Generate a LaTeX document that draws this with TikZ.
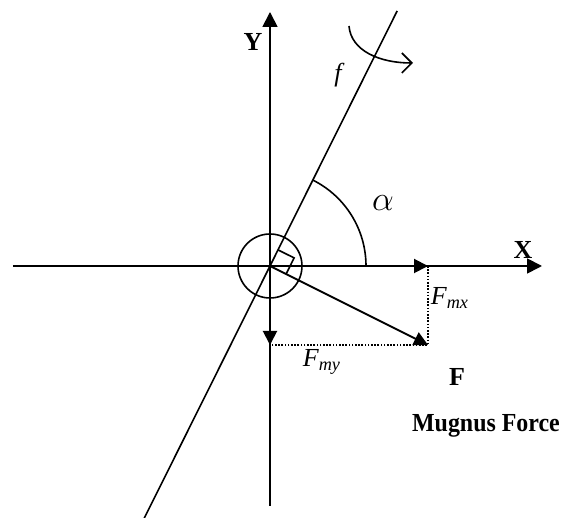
\documentclass[tikz,border=0pt,12pt]{standalone}
\usepackage{fontspec}
\setmainfont{Liberation Serif}
\usepackage{graphicx}
\usetikzlibrary{arrows.meta}

\begin{document}
\begin{tikzpicture}[
    x=0.5pt, y=0.5pt,
    axis/.style={line width=0.9pt, -{Triangle[length=7.5pt,width=7.5pt]}},
    vec/.style={line width=1pt, -{Triangle[length=7pt,width=7pt]}},
    comp/.style={line width=0.8pt, dash pattern=on 0.8pt off 0.8pt},
    thinline/.style={line width=0.8pt},
    lbl/.style={font=\bfseries\fontsize{13}{15}\selectfont, inner sep=0pt},
    ilbl/.style={font=\itshape\fontsize{13}{15}\selectfont, inner sep=0pt}
]
\useasboundingbox (-270,-252) rectangle (293,266);

% Axes
\coordinate (O) at (0,0);
\coordinate (xl) at (-257,0);
\coordinate (xr) at (272,0);
\coordinate (yb) at (0,-240);
\coordinate (yt) at (0,254);
\draw[axis] (xl) -- (xr);
\draw[axis] (yb) -- (yt);

% Force and its components
\coordinate (Fx) at (158,0);
\coordinate (Fy) at (0,-79);
\coordinate (Ft) at (158,-79);
\draw[comp] (Fx) -- (Ft) -- (Fy);
\draw[vec] (O) -- (Fx);
\draw[vec] (O) -- (Fy);
\draw[vec] (O) -- (Ft);

% Spin axis f
\coordinate (fb) at (243.5:282);
\coordinate (ft) at (63.5:285);
\draw[thinline] (fb) -- (ft);
\draw[thinline] (O) circle[radius=32];
\draw[thinline] (63.5:18) -- ++(-26.5:18) -- (-26.5:18);
\draw[thinline] (96,0) arc[start angle=0, end angle=63.5, radius=96];

% Rotation
\coordinate (rs) at (79,240);
\coordinate (re) at (143,203);
\draw[thinline, -{Straight Barb[length=5pt,width=10pt]}] (rs) .. controls (81,215) and (110,203) .. (re);

% Labels
\node[lbl] (ylab) at (-17,224) {Y};
\node[lbl] (xlab) at (253,16) {X};
\node[ilbl] (flab) at (68,191) {f};
\node[inner sep=0pt] (alab) at (113,63) {\fontsize{17}{19}\selectfont$\alpha$};
\node[ilbl] (fmx) at (180,-32) {F\textsubscript{mx}};
\node[ilbl] (fmy) at (52,-96) {F\textsubscript{my}};
\node[lbl] (flbl) at (187,-111) {F};
\node[lbl] (mf) at (216,-160) {\scalebox{0.92}[1]{Mugnus Force}};
\end{tikzpicture}
\end{document}
